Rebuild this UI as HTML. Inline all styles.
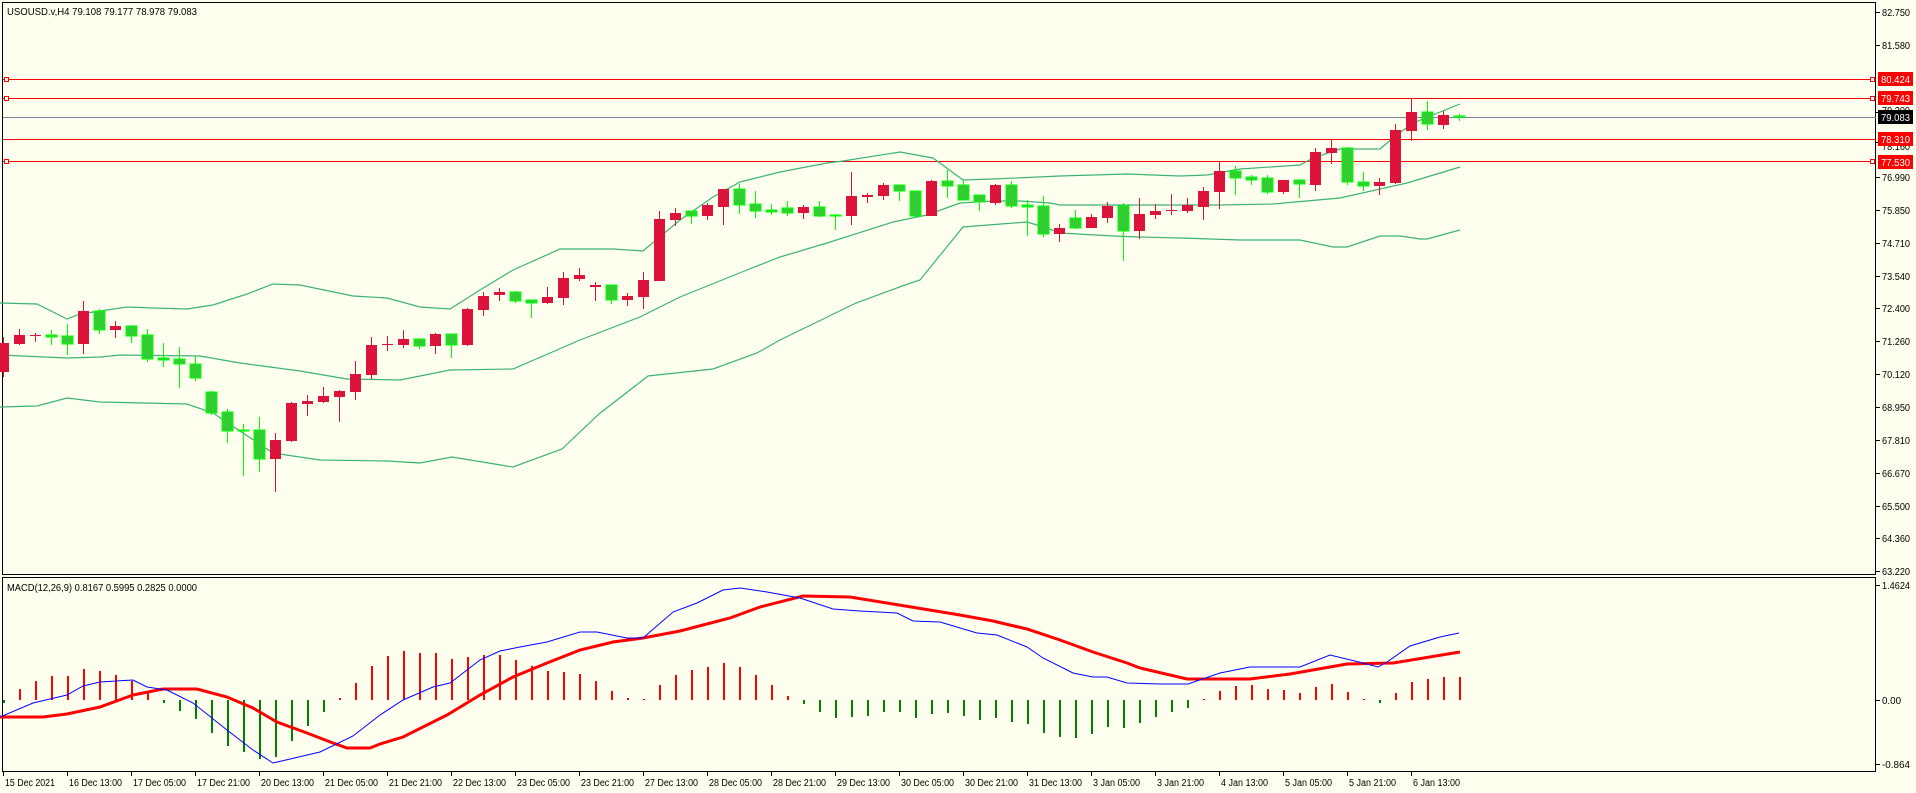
<!DOCTYPE html>
<html><head><meta charset="utf-8"><style>
html,body{margin:0;padding:0;background:#FFFFF0;}
svg{display:block;}
text{font-family:"Liberation Sans",sans-serif;font-size:11px;fill:#000;}
.a{font-size:10px;}
</style></head><body>
<svg id="s" width="1916" height="793" viewBox="0 0 1916 793" xmlns="http://www.w3.org/2000/svg">
<rect width="1916" height="793" fill="#FFFFF0"/>
<g stroke="#000" stroke-width="1" fill="none" shape-rendering="crispEdges">
<rect x="2.5" y="2.5" width="1873" height="572"/>
<rect x="2.5" y="577.5" width="1873" height="194"/>
</g>
<g shape-rendering="crispEdges">
<line x1="3" y1="117.5" x2="1876" y2="117.5" stroke="#778899" stroke-width="1"/>
<line x1="3" y1="79.5" x2="1876" y2="79.5" stroke="#FF0000"/>
<line x1="3" y1="98.5" x2="1876" y2="98.5" stroke="#FF0000"/>
<line x1="3" y1="139.5" x2="1876" y2="139.5" stroke="#FF0000"/>
<line x1="3" y1="161.5" x2="1876" y2="161.5" stroke="#FF0000"/>
<g fill="#fff" stroke="#FF0000">
<rect x="4.5" y="77.5" width="4" height="4"/><rect x="1870.5" y="77.5" width="4" height="4"/>
<rect x="4.5" y="96.5" width="4" height="4"/><rect x="1870.5" y="96.5" width="4" height="4"/>
<rect x="4.5" y="159.5" width="4" height="4"/><rect x="1870.5" y="159.5" width="4" height="4"/>
</g>
</g>
<g fill="none" stroke="#3CB371" stroke-width="1.2">
<polyline points="0,303 37,304 67,319 80,314 127,307 153,308 187,309 213,305 247,294 273,284 300,285 353,296 387,298 420,307 450,309 480,290 513,270 560,249 613,249 643,251 680,220 713,197 740,182 780,172 827,163 843,161 900,152 933,158 963,180 993,179 1060,176 1127,174 1180,176 1207,175 1240,169 1300,165 1313,158 1340,149 1380,149 1393,138 1413,123 1460,104"/>
<polyline points="0,355 67,358 100,357 120,355 200,356 240,363 300,371 347,379 400,380 450,370 513,369 580,340 640,317 680,297 747,270 780,257 827,243 893,222 927,215 960,203 993,201 1020,201 1050,203 1060,205 1160,205 1220,205 1273,204 1340,198 1407,183 1460,167"/>
<polyline points="0,407 37,406 67,398 100,402 187,404 213,413 273,453 320,460 387,461 420,463 452,457 513,467 562,449 599,414 648,376 713,369 757,353 780,340 856,303 905,285 920,280 963,227 1027,222 1047,228 1060,233 1113,236 1140,237 1180,238 1240,240 1300,240 1333,247 1347,247 1380,236 1400,236 1420,239 1427,239 1460,230"/>
</g>
<g id="candles" shape-rendering="crispEdges"></g>
<g id="hist" shape-rendering="crispEdges"></g>
<g fill="none">
<polyline stroke="#FF0000" stroke-width="3" points="0,717 43,717 67,714 100,707 133,695 163,689 197,689 227,697 253,708 277,722 307,733 333,743 347,748 370,748 380,744 403,737 447,715 480,695 513,677 547,663 580,650 613,642 643,638 680,631 730,618 760,607 803,596 850,597 893,604 960,615 993,621 1027,629 1060,640 1093,652 1127,663 1140,668 1187,679 1250,679 1290,674 1347,664 1393,663 1460,652"/>
<polyline stroke="#0000FF" stroke-width="1" points="0,717 33,703 67,695 83,686 100,682 133,680 147,687 167,690 193,703 227,730 253,750 273,763 320,752 353,736 380,715 403,700 433,687 450,683 480,660 500,651 520,647 547,642 580,632 597,632 627,638 643,638 673,612 697,603 723,590 740,588 767,592 800,598 833,609 860,611 897,613 913,621 940,622 977,633 997,635 1027,647 1043,658 1073,673 1093,677 1107,677 1127,683 1160,684 1188,684 1220,673 1250,667 1300,667 1330,655 1363,663 1378,667 1387,662 1410,646 1440,637 1459,633"/>
</g>
<g stroke="#000" shape-rendering="crispEdges">
<line x1="1876" y1="12.5" x2="1880" y2="12.5"/><line x1="1876" y1="45.5" x2="1880" y2="45.5"/>
<line x1="1876" y1="112.5" x2="1880" y2="112.5"/><line x1="1876" y1="142.5" x2="1880" y2="142.5"/>
<line x1="1876" y1="177.5" x2="1880" y2="177.5"/><line x1="1876" y1="210.5" x2="1880" y2="210.5"/>
<line x1="1876" y1="243.5" x2="1880" y2="243.5"/><line x1="1876" y1="276.5" x2="1880" y2="276.5"/>
<line x1="1876" y1="308.5" x2="1880" y2="308.5"/><line x1="1876" y1="341.5" x2="1880" y2="341.5"/>
<line x1="1876" y1="374.5" x2="1880" y2="374.5"/><line x1="1876" y1="407.5" x2="1880" y2="407.5"/>
<line x1="1876" y1="440.5" x2="1880" y2="440.5"/><line x1="1876" y1="473.5" x2="1880" y2="473.5"/>
<line x1="1876" y1="506.5" x2="1880" y2="506.5"/><line x1="1876" y1="538.5" x2="1880" y2="538.5"/>
<line x1="1876" y1="571.5" x2="1880" y2="571.5"/>
<line x1="1876" y1="585.5" x2="1880" y2="585.5"/><line x1="1876" y1="700.5" x2="1880" y2="700.5"/><line x1="1876" y1="764.5" x2="1880" y2="764.5"/>
</g>
<g class="a">
<text class="a" x="1882" y="16" textLength="28" lengthAdjust="spacingAndGlyphs">82.750</text>
<text class="a" x="1882" y="49" textLength="28" lengthAdjust="spacingAndGlyphs">81.580</text>
<text class="a" x="1882" y="114" textLength="28" lengthAdjust="spacingAndGlyphs">79.200</text>
<text class="a" x="1882" y="150" textLength="28" lengthAdjust="spacingAndGlyphs">78.160</text>
<text class="a" x="1882" y="181" textLength="28" lengthAdjust="spacingAndGlyphs">76.990</text>
<text class="a" x="1882" y="214" textLength="28" lengthAdjust="spacingAndGlyphs">75.850</text>
<text class="a" x="1882" y="247" textLength="28" lengthAdjust="spacingAndGlyphs">74.710</text>
<text class="a" x="1882" y="280" textLength="28" lengthAdjust="spacingAndGlyphs">73.540</text>
<text class="a" x="1882" y="312" textLength="28" lengthAdjust="spacingAndGlyphs">72.400</text>
<text class="a" x="1882" y="345" textLength="28" lengthAdjust="spacingAndGlyphs">71.260</text>
<text class="a" x="1882" y="378" textLength="28" lengthAdjust="spacingAndGlyphs">70.120</text>
<text class="a" x="1882" y="411" textLength="28" lengthAdjust="spacingAndGlyphs">68.950</text>
<text class="a" x="1882" y="444" textLength="28" lengthAdjust="spacingAndGlyphs">67.810</text>
<text class="a" x="1882" y="477" textLength="28" lengthAdjust="spacingAndGlyphs">66.670</text>
<text class="a" x="1882" y="510" textLength="28" lengthAdjust="spacingAndGlyphs">65.500</text>
<text class="a" x="1882" y="542" textLength="28" lengthAdjust="spacingAndGlyphs">64.360</text>
<text class="a" x="1882" y="575" textLength="28" lengthAdjust="spacingAndGlyphs">63.220</text>
<text class="a" x="1882" y="589" textLength="28" lengthAdjust="spacingAndGlyphs">1.4624</text>
<text class="a" x="1882" y="704" textLength="19" lengthAdjust="spacingAndGlyphs">0.00</text>
<text class="a" x="1882" y="768" textLength="28" lengthAdjust="spacingAndGlyphs">-0.864</text>
<rect x="1878" y="72" width="35" height="14" fill="#FF0000"/><text class="a" x="1881" y="83" textLength="29" lengthAdjust="spacingAndGlyphs" style="fill:#fff">80.424</text>
<rect x="1878" y="91" width="35" height="14" fill="#FF0000"/><text class="a" x="1881" y="102" textLength="29" lengthAdjust="spacingAndGlyphs" style="fill:#fff">79.743</text>
<rect x="1878" y="110" width="35" height="14" fill="#000"/><text class="a" x="1881" y="121" textLength="29" lengthAdjust="spacingAndGlyphs" style="fill:#fff">79.083</text>
<rect x="1878" y="132" width="35" height="14" fill="#FF0000"/><text class="a" x="1881" y="143" textLength="29" lengthAdjust="spacingAndGlyphs" style="fill:#fff">78.310</text>
<rect x="1878" y="155" width="35" height="14" fill="#FF0000"/><text class="a" x="1881" y="166" textLength="29" lengthAdjust="spacingAndGlyphs" style="fill:#fff">77.530</text>
</g>
<text class="a" x="7" y="15" textLength="190" lengthAdjust="spacingAndGlyphs">USOUSD.v,H4  79.108 79.177 78.978 79.083</text>
<text class="a" x="7" y="591" textLength="190" lengthAdjust="spacingAndGlyphs">MACD(12,26,9) 0.8167 0.5995 0.2825 0.0000</text>
<g stroke="#000" shape-rendering="crispEdges" id="dt"></g>
<g>
<text class="a" x="5" y="786" textLength="50" lengthAdjust="spacingAndGlyphs">15 Dec 2021</text>
<text class="a" x="69" y="786" textLength="53" lengthAdjust="spacingAndGlyphs">16 Dec 13:00</text>
<text class="a" x="133" y="786" textLength="53" lengthAdjust="spacingAndGlyphs">17 Dec 05:00</text>
<text class="a" x="197" y="786" textLength="53" lengthAdjust="spacingAndGlyphs">17 Dec 21:00</text>
<text class="a" x="261" y="786" textLength="53" lengthAdjust="spacingAndGlyphs">20 Dec 13:00</text>
<text class="a" x="325" y="786" textLength="53" lengthAdjust="spacingAndGlyphs">21 Dec 05:00</text>
<text class="a" x="389" y="786" textLength="53" lengthAdjust="spacingAndGlyphs">21 Dec 21:00</text>
<text class="a" x="453" y="786" textLength="53" lengthAdjust="spacingAndGlyphs">22 Dec 13:00</text>
<text class="a" x="517" y="786" textLength="53" lengthAdjust="spacingAndGlyphs">23 Dec 05:00</text>
<text class="a" x="581" y="786" textLength="53" lengthAdjust="spacingAndGlyphs">23 Dec 21:00</text>
<text class="a" x="645" y="786" textLength="53" lengthAdjust="spacingAndGlyphs">27 Dec 13:00</text>
<text class="a" x="709" y="786" textLength="53" lengthAdjust="spacingAndGlyphs">28 Dec 05:00</text>
<text class="a" x="773" y="786" textLength="53" lengthAdjust="spacingAndGlyphs">28 Dec 21:00</text>
<text class="a" x="837" y="786" textLength="53" lengthAdjust="spacingAndGlyphs">29 Dec 13:00</text>
<text class="a" x="901" y="786" textLength="53" lengthAdjust="spacingAndGlyphs">30 Dec 05:00</text>
<text class="a" x="965" y="786" textLength="53" lengthAdjust="spacingAndGlyphs">30 Dec 21:00</text>
<text class="a" x="1029" y="786" textLength="53" lengthAdjust="spacingAndGlyphs">31 Dec 13:00</text>
<text class="a" x="1093" y="786" textLength="47" lengthAdjust="spacingAndGlyphs">3 Jan 05:00</text>
<text class="a" x="1157" y="786" textLength="47" lengthAdjust="spacingAndGlyphs">3 Jan 21:00</text>
<text class="a" x="1221" y="786" textLength="47" lengthAdjust="spacingAndGlyphs">4 Jan 13:00</text>
<text class="a" x="1285" y="786" textLength="47" lengthAdjust="spacingAndGlyphs">5 Jan 05:00</text>
<text class="a" x="1349" y="786" textLength="47" lengthAdjust="spacingAndGlyphs">5 Jan 21:00</text>
<text class="a" x="1413" y="786" textLength="47" lengthAdjust="spacingAndGlyphs">6 Jan 13:00</text>
</g>
</svg>
<script>
var C=[[337,343,372,377,'r'],[329,335,344,345,'r'],[333,335,336,342,'r'],[330,335,337,345,'g'],[324,336,344,355,'g'],[301,311,344,354,'r'],[309,311,330,334,'g'],[321,326,330,338,'r'],[325,326,336,343,'g'],[329,335,359,362,'g'],
[343,358,360,367,'g'],[347,359,364,388,'g'],[356,364,378,381,'g'],[391,392,413,415,'g'],[409,412,431,443,'g'],[424,430,431,476,'g'],[417,430,459,472,'g'],[433,440,459,492,'r'],[402,403,441,442,'r'],[395,401,404,416,'r'],
[387,396,402,403,'r'],[390,391,397,422,'r'],[361,374,392,400,'r'],[337,345,375,379,'r'],[336,344,345,351,'r'],[330,339,345,348,'r'],[338,339,346,349,'g'],[333,334,346,354,'r'],[334,334,345,358,'g'],[308,309,345,346,'r'],
[292,296,310,316,'r'],[288,292,295,301,'r'],[291,292,301,303,'g'],[300,300,303,318,'g'],[287,297,303,304,'r'],[272,278,298,305,'r'],[268,275,279,281,'r'],[282,285,287,301,'r'],[285,285,300,304,'g'],[293,296,300,306,'r'],
[272,280,297,309,'r'],[211,219,281,281,'r'],[208,213,220,226,'r'],[211,211,216,224,'g'],[203,205,216,220,'r'],[189,189,207,225,'r'],[184,189,205,214,'g'],[191,204,211,218,'g'],[204,210,212,215,'g'],[201,208,213,216,'g'],
[205,207,213,219,'r'],[201,207,216,217,'g'],[214,215,216,230,'g'],[172,196,216,225,'r'],[193,195,197,203,'r'],[183,185,196,200,'r'],[185,185,191,201,'g'],[191,191,216,218,'g'],[180,181,216,216,'r'],[170,181,186,198,'g'],
[180,185,200,200,'g'],[195,195,202,211,'g'],[184,185,203,205,'r'],[181,185,206,208,'g'],[200,205,207,236,'g'],[196,206,234,237,'g'],[224,228,234,242,'r'],[210,218,228,229,'g'],[214,217,228,228,'r'],[202,206,218,223,'r'],
[203,206,231,261,'g'],[198,214,231,239,'r'],[204,211,215,219,'r'],[194,210,211,215,'r'],[198,205,211,213,'r'],[187,191,207,220,'r'],[162,171,192,209,'r'],[166,171,178,195,'g'],[175,177,180,185,'g'],[175,178,192,194,'g'],
[180,180,192,194,'r'],[179,180,184,198,'g'],[148,152,185,191,'r'],[140,148,153,164,'r'],[147,148,182,185,'g'],[172,182,186,191,'g'],[178,182,186,195,'r'],[124,130,183,184,'r'],[99,112,131,141,'r'],[101,112,124,130,'g'],
[111,115,125,129,'r'],[114,116,117,121,'g']];
var H=[[703,'g'],689,681,676,676,669,671,675,681,692,[703,'g'],[711,'g'],[719,'g'],[733,'g'],[746,'g'],[752,'g'],[759,'g'],[757,'g'],[741,'g'],[726,'g'],[712,'g'],698,683,666,656,651,653,653,659,657,655,655,660,666,671,672,674,681,691,698,699,685,675,670,667,663,667,675,685,696,
[704,'g'],[712,'g'],[718,'g'],[717,'g'],[716,'g'],[712,'g'],[712,'g'],[718,'g'],[714,'g'],[713,'g'],[716,'g'],[720,'g'],[718,'g'],[722,'g'],[724,'g'],[733,'g'],[737,'g'],[738,'g'],[734,'g'],[727,'g'],[728,'g'],[723,'g'],[717,'g'],[712,'g'],[708,'g'],
699,691,686,685,689,690,693,687,684,692,699,[703,'g'],693,682,679,677,677];
var NS="http://www.w3.org/2000/svg";
function el(p,t,a){var e=document.createElementNS(NS,t);for(var k in a)e.setAttribute(k,a[k]);p.appendChild(e);return e;}
var cg=document.getElementById('candles');
C.forEach(function(c,i){var x=3+16*i;var red=c[4]=='r';var col=red?'#DC143C':'#00FF00';
el(cg,'rect',{x:x,y:c[0],width:1,height:Math.max(1,c[3]-c[0]),fill:col});
var h=Math.max(1,c[2]-c[1]);
el(cg,'rect',{x:x-5,y:c[1],width:11,height:h,fill:red?'#DC143C':'#32CD32',stroke:red?'none':'#00FF00','stroke-width':red?0:1});});
var hg=document.getElementById('hist');
H.forEach(function(v,i){var x=3+16*i;var g=false;if(Array.isArray(v)){g=true;v=v[0];}
var y1=Math.min(v,700),y2=Math.max(v,700);el(hg,'rect',{x:x,y:y1,width:2,height:Math.max(1,y2-y1),fill:g?'#008000':'#FF0000'});});
var dt=document.getElementById('dt');
for(var j=0;j<23;j++){var x=3.5+64*j;el(dt,'line',{x1:x,y1:772,x2:x,y2:776});}
</script>
</body></html>
